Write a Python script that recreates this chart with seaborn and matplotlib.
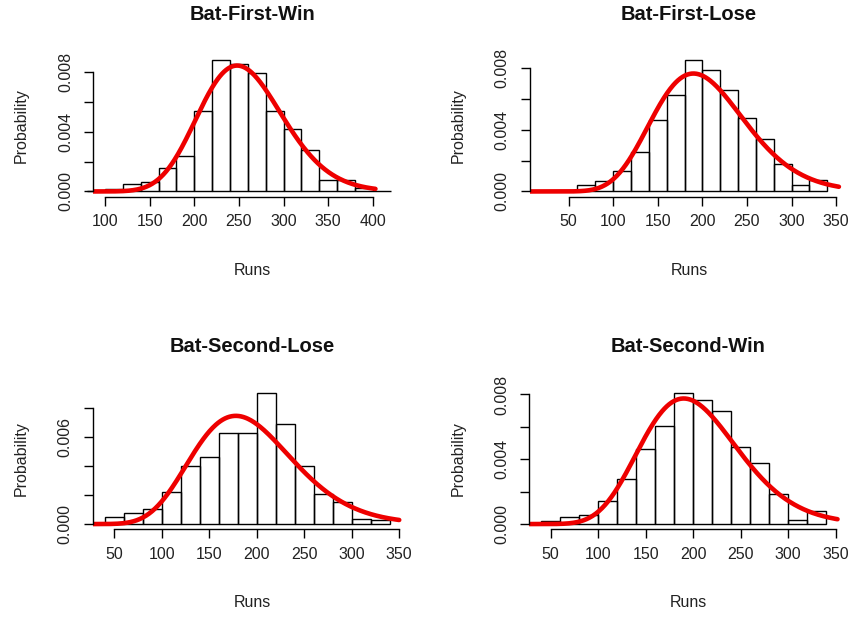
import math
import numpy as np
import pandas as pd
import matplotlib
matplotlib.use("Agg")
import matplotlib.pyplot as plt
import seaborn as sns

# Histogram densities per 20-run bin
bin_width = 20
titles = ["Bat-First-Win", "Bat-First-Lose", "Bat-Second-Lose", "Bat-Second-Win"]
bin_starts = [80, 60, 40, 40]
densities = [
    [0, 0.00018, 0.00050, 0.00062, 0.00155, 0.0024, 0.0054, 0.0088, 0.00854,
     0.00795, 0.0054, 0.0042, 0.00276, 0.00079, 0.00079, 0.00024, 0],
    [0.00039, 0.00067, 0.0013, 0.00257, 0.00463, 0.0063, 0.00852, 0.00787,
     0.00657, 0.00478, 0.00339, 0.0018, 0.00039, 0.00076],
    [0.00046, 0.00076, 0.00104, 0.00225, 0.004, 0.00463, 0.00632, 0.00632,
     0.00907, 0.00694, 0.004, 0.00206, 0.00155, 0.00035, 0.00025],
    [0.00019, 0.00041, 0.00058, 0.00142, 0.00276, 0.00462, 0.00604, 0.0081,
     0.00763, 0.00695, 0.00478, 0.00375, 0.00188, 0.00027, 0.00082],
]
# fitted gamma curve (shape, scale) and where the curve stops
gamma_shape = [28.8, 14.5, 12.3, 14.8]
gamma_scale = [8.92, 14.07, 15.75, 13.77]
curve_end = [403, 353, 350, 352]
# x limits (as given to hist) and axis tick labels
xlims = [(100, 430), (20, 350), (40, 350), (40, 350)]
xticks = [[100, 150, 200, 250, 300, 350, 400]] + [[50, 100, 150, 200, 250, 300, 350]] * 3
yticks = [0, 0.002, 0.004, 0.006, 0.008]
ytick_labels = [
    ["0.000", "", "0.004", "", "0.008"],
    ["0.000", "", "0.004", "", "0.008"],
    ["0.000", "", "", "0.006", ""],
    ["0.000", "", "0.004", "", "0.008"],
]


def gamma_pdf(x, k, theta):
    return np.exp((k - 1) * np.log(x) - x / theta - math.lgamma(k) - k * math.log(theta))


sns.set_style("ticks")
plt.rcParams["font.family"] = ["Liberation Sans", "DejaVu Sans"]

W, H = 854, 617
fig = plt.figure(figsize=(W / 100, H / 100), dpi=100)
# plot regions in pixels: left, top, right, bottom
regions = [(93.3, 55.2, 411.3, 196.7), (530.0, 55.2, 848.0, 196.7),
           (93.0, 387.6, 411.0, 529.3), (529.4, 387.6, 847.4, 529.3)]

for i in range(4):
    l, t, r, b = regions[i]
    ax = fig.add_axes([l / W, 1 - b / H, (r - l) / W, (b - t) / H])
    dens = np.array(densities[i])
    edges = bin_starts[i] + bin_width * np.arange(len(dens) + 1)
    df = pd.DataFrame({"runs": edges[:-1] + bin_width / 2, "density": dens})

    sns.histplot(data=df, x="runs", weights="density", bins=list(edges), stat="count",
                 fill=False, color="black", linewidth=1.0, element="bars", ax=ax)
    if i == 0:
        for p in ax.patches:
            p.set_clip_on(False)

    a, c = xlims[i]
    x0, x1 = a - 0.04 * (c - a), c + 0.04 * (c - a)
    m = dens.max()
    ax.set_xlim(x0, x1)
    ax.set_ylim(-0.04 * m, 1.04 * m)

    xs = np.linspace(x0, curve_end[i], 400)
    pdf = gamma_pdf(xs, gamma_shape[i], gamma_scale[i])
    sns.lineplot(x=xs, y=pdf, color="#ee0000", linewidth=3.3, ax=ax)

    sns.despine(ax=ax)
    ax.spines["left"].set_bounds(0, max(tk for tk in yticks if tk <= 1.04 * m))
    ax.spines["bottom"].set_bounds(xticks[i][0], xticks[i][-1])
    for s in ["left", "bottom"]:
        ax.spines[s].set_linewidth(1.0)
        ax.spines[s].set_color("black")

    ax.set_xticks(xticks[i])
    ax.set_xticklabels([str(v) for v in xticks[i]])
    ax.set_yticks(yticks)
    ax.set_yticklabels(ytick_labels[i], rotation=90, va="center")
    ax.tick_params(axis="both", length=6.5, width=1.0, color="black",
                   labelsize=11.5, labelcolor="#222222")
    ax.tick_params(axis="x", pad=6)
    ax.tick_params(axis="y", pad=8)

    ax.set_xlabel("Runs", fontsize=11.5, color="#222222")
    ax.xaxis.set_label_coords(0.5, -0.52)
    ax.xaxis.label.set_va("center")
    ax.set_ylabel("Probability", fontsize=11.5, color="#222222")
    ax.yaxis.set_label_coords(-0.225, 0.5)
    ax.yaxis.label.set_va("center")

    ax.text(0.5, 1.29, titles[i], transform=ax.transAxes, ha="center", va="center",
            fontsize=14.5, fontweight="bold", color="#111111")
    ax.set_facecolor("white")

plt.savefig("out.png", dpi=100)
